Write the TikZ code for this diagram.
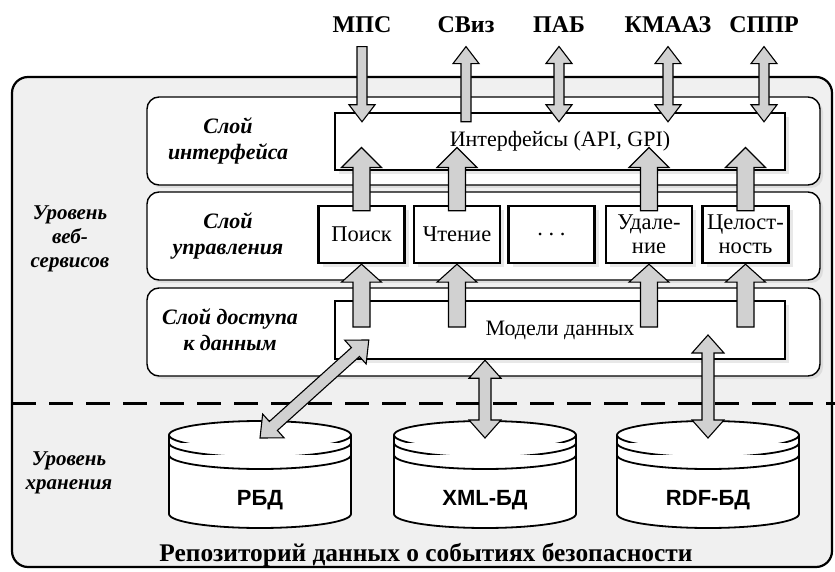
\documentclass[tikz,border=0pt]{standalone}
\usepackage{fontspec}
\setmainfont{Liberation Serif}
\setsansfont{Liberation Sans}
\usetikzlibrary{calc,shadows}
\definecolor{arrowgray}{gray}{0.82}
\definecolor{panelgray}{gray}{0.94}
\tikzset{
    repo/.style={draw, line width=2.2pt, rounded corners=16pt, fill=panelgray},
    sepline/.style={line width=3pt, dash pattern=on 24pt off 13pt},
    layer/.style={draw, line width=1.4pt, rounded corners=12pt, fill=white,
        minimum width=673pt, minimum height=88pt,
        drop shadow={shadow xshift=3pt, shadow yshift=-3pt, fill=gray!40}},
    inbox/.style={draw, line width=2.4pt, fill=white,
        font=\fontsize{22}{24}\selectfont,
        drop shadow={shadow xshift=4pt, shadow yshift=-4pt, fill=gray!35}},
    opbox/.style={inbox, minimum width=86pt, minimum height=57pt,
        inner sep=1pt, align=center, font=\fontsize{22.5}{24}\selectfont},
    toplabel/.style={font=\bfseries\fontsize{24}{26}\selectfont},
    leveltext/.style={font=\fontsize{21}{24}\selectfont\bfseries\itshape, align=center},
    layertext/.style={font=\fontsize{22}{26}\selectfont\bfseries\itshape, align=center},
    dbtext/.style={font=\sffamily\bfseries\fontsize{22}{24}\selectfont},
    cyl/.style={draw, line width=1.8pt, fill=white},
    blkarrow/.style={fill=arrowgray, draw=black, line width=1.1pt, line join=miter}
}
% block arrow, tip at #2: tail, tip, half shaft, half head, head length
\newcommand{\singlearrow}[5]{%
    \coordinate (ahead) at ($(#2)!#5!(#1)$);
    \filldraw[blkarrow] ($(#1)!#3!90:(#2)$) -- ($(ahead)!#3!-90:(#1)$)
        -- ($(ahead)!#4!-90:(#1)$) -- (#2) -- ($(ahead)!#4!90:(#1)$)
        -- ($(ahead)!#3!90:(#1)$) -- ($(#1)!#3!-90:(#2)$) -- cycle;
}
% block arrow with heads at both ends
\newcommand{\doublearrow}[5]{%
    \coordinate (ahead) at ($(#2)!#5!(#1)$);
    \coordinate (atail) at ($(#1)!#5!(#2)$);
    \filldraw[blkarrow] ($(atail)!#3!90:(#2)$) -- ($(ahead)!#3!-90:(#1)$)
        -- ($(ahead)!#4!-90:(#1)$) -- (#2) -- ($(ahead)!#4!90:(#1)$)
        -- ($(ahead)!#3!90:(#1)$) -- ($(atail)!#3!-90:(#2)$)
        -- ($(atail)!#4!-90:(#2)$) -- (#1) -- ($(atail)!#4!90:(#2)$) -- cycle;
}
\begin{document}
\begin{tikzpicture}[x=1pt, y=1pt]
\useasboundingbox (0,0) rectangle (835,571);
% repository frame
\draw[repo] (12,4) rectangle (832,494);
\draw[sepline] (12,168) -- (835,168);

% layers of the web-service level
\node[layer] (ilayer) at (483.5,430) {};
\node[layer] (clayer) at (483.5,335) {};
\node[layer] (dlayer) at (483.5,239) {};
\node[layertext] (itext) at (228,430) {Слой\\интерфейса};
\node[layertext] (ctext) at (228,335) {Слой\\управления};
\node[layertext] (dtext) at (230,241) {Слой доступа\\к данным};
\node[leveltext] (wslevel) at (70,332) {Уровень\\веб-\\сервисов};
\node[leveltext] (stlevel) at (69,98) {Уровень\\хранения};

\node[inbox, minimum width=450pt, minimum height=57pt] (iface) at (560,429.5) {Интерфейсы (API, GPI)};
\node[inbox, minimum width=450pt, minimum height=58pt] (models) at (560,241) {Модели данных};

\node[opbox] (poisk) at (361.5,336.5) {Поиск};
\node[opbox] (chtenie) at (457,336.5) {Чтение};
\node[opbox] (etc) at (551.5,336.5) {.~.~.};
\node[opbox] (udalenie) at (649,336.5) {Удале-\\ние};
\node[opbox] (tselost) at (745.5,336.5) {Целост-\\ность};

% clients
\node[toplabel] (mps) at (362,546) {МПС};
\node[toplabel] (sviz) at (466,546) {СВиз};
\node[toplabel] (pab) at (559,546) {ПАБ};
\node[toplabel] (kmaaz) at (668,546) {КМААЗ};
\node[toplabel] (sppr) at (764,546) {СППР};

% storage level
\foreach \cx/\nm/\txt in {260/rbd/РБД, 485/xml/XML-БД, 708/rdf/RDF-БД}{
    \filldraw[cyl] (\cx-91,136) -- (\cx-91,57)
        arc[start angle=180, end angle=360, x radius=91, y radius=14]
        -- (\cx+91,136) arc[start angle=0, end angle=180, x radius=91, y radius=14] -- cycle;
    \draw[cyl] (\cx-91,136) arc[start angle=180, end angle=360, x radius=91, y radius=14];
    \draw[cyl] (\cx-91,128) arc[start angle=180, end angle=360, x radius=91, y radius=14];
    \draw[cyl] (\cx-91,116) arc[start angle=180, end angle=360, x radius=91, y radius=14];
    \coordinate (\nm-top) at (\cx,133);
    \node[dbtext] (\nm) at (\cx,71) {\txt};
}
\node[font=\bfseries\fontsize{25.4}{27}\selectfont] (repotext) at (426,16)
    {Репозиторий данных о событиях безопасности};

% arrows to the clients
\foreach \cl in {mps,sviz,pab,kmaaz,sppr}{
    \coordinate (\cl-out) at ($(\cl.south)+(0,-10)$);
    \coordinate (\cl-in) at ($(\cl |- iface.north)+(0,-10)$);
}
\singlearrow{mps-out}{mps-in}{5pt}{13pt}{17pt}
\singlearrow{sviz-in}{sviz-out}{5pt}{13pt}{17pt}
\doublearrow{pab-out}{pab-in}{5pt}{13pt}{17pt}
\doublearrow{kmaaz-out}{kmaaz-in}{5pt}{13pt}{17pt}
\doublearrow{sppr-out}{sppr-in}{5pt}{13pt}{17pt}

% arrows between the layers
\foreach \op in {poisk,chtenie,udalenie,tselost}{
    \coordinate (\op-up) at ($(\op.north)+(0,-6)$);
    \coordinate (\op-if) at ($(\op |- iface.center)+(0,-6)$);
    \coordinate (\op-dm) at ($(\op |- models.center)+(0,3)$);
    \singlearrow{\op-up}{\op-if}{8.5pt}{20pt}{20pt}
    \singlearrow{\op-dm}{\op.south}{8.5pt}{20pt}{18pt}
}

% arrows to the databases
\coordinate (rbd-dm) at ($(models.west)+(35,-10)$);
\coordinate (xml-dm) at (xml-top |- models.south);
\coordinate (rdf-dm) at ($(rdf-top |- models.center)+(0,-5)$);
\doublearrow{rbd-dm}{rbd-top}{6pt}{16pt}{18pt}
\doublearrow{xml-dm}{xml-top}{6pt}{16pt}{18pt}
\doublearrow{rdf-dm}{rdf-top}{6pt}{16pt}{18pt}
\end{tikzpicture}
\end{document}
